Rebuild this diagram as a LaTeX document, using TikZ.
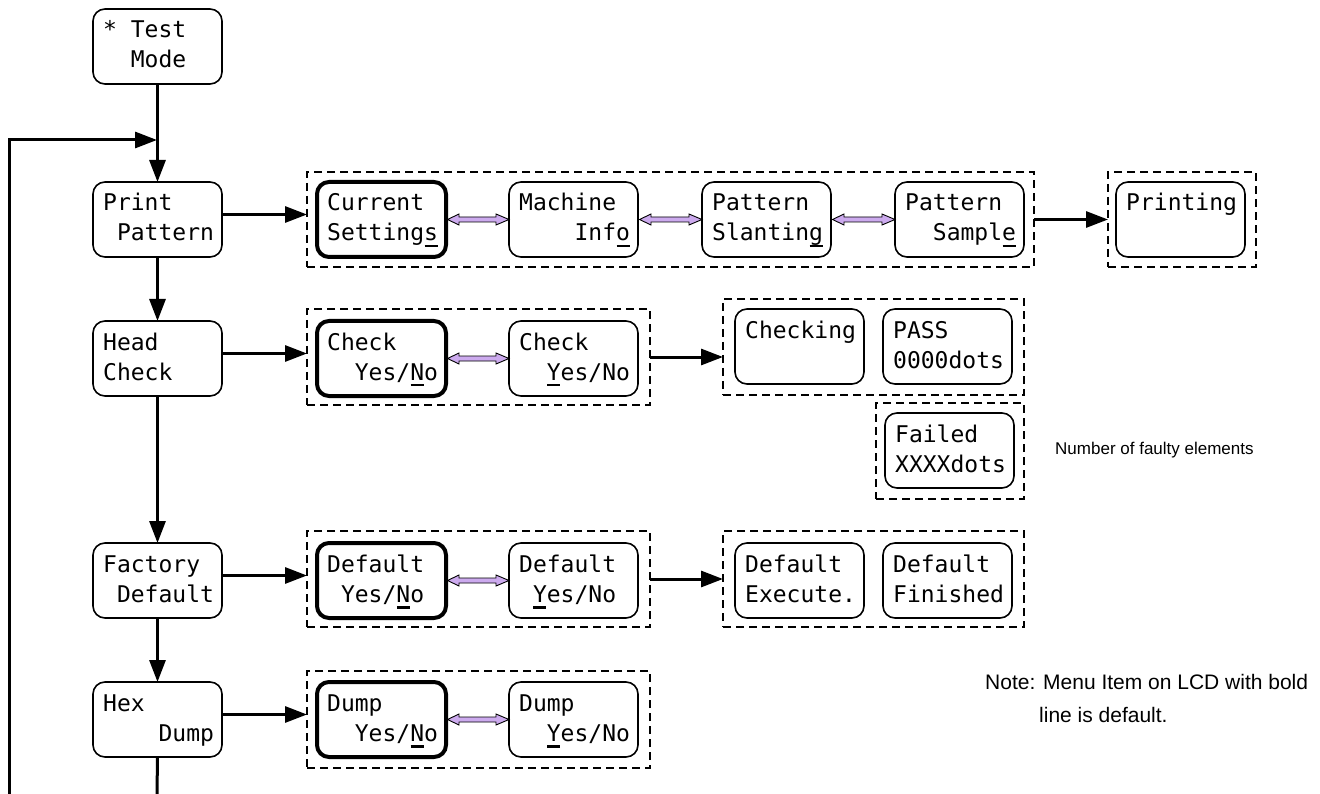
\documentclass[tikz,border=0pt]{standalone}
\usepackage{fontspec}
\setmainfont{Liberation Sans}
\newfontfamily\lcdfont{DejaVu Sans Mono}
\usetikzlibrary{arrows.meta,calc}
\definecolor{lav}{RGB}{204,170,238}
\newcommand\ind[1]{\hphantom{#1}}
\newcommand\ulc[1]{\makebox[0pt][l]{\hspace{0.4pt}\rule[-6.5pt]{13pt}{2.5pt}}#1}
\newcommand\lcd[6][]{%
  \node[lcdbox,#1,anchor=north west] (#2) at (#3,-#4) {};
  \node[lcdtxt] at (#3+10,-#4-29) {#5};
  \node[lcdtxt] at (#3+10,-#4-59) {#6};}
\newcommand\grp[5]{\node[grp,anchor=north west,minimum width=#4pt-#2pt,minimum height=#5pt-#3pt] (#1) at (#2,-#3) {};}
\newcommand\dbl[2]{\draw[dblarr] let \p1=(#1.east), \p2=(#2.west) in
  (\x1+1.5pt,\y1) -- (\x1+13pt,\y1+5.5pt) -- (\x1+13pt,\y1+2.5pt) -- (\x2-13pt,\y1+2.5pt) -- (\x2-13pt,\y1+5.5pt) -- (\x2,\y1)
  -- (\x2-13pt,\y1-5.5pt) -- (\x2-13pt,\y1-2.5pt) -- (\x1+13pt,\y1-2.5pt) -- (\x1+13pt,\y1-5.5pt) -- cycle;}
\tikzset{
  lcdbox/.style={draw, line width=1.6pt, rounded corners=12pt, minimum width=129pt, minimum height=75pt, inner sep=0pt, outer sep=0pt},
  boldbox/.style={line width=4pt},
  lcdtxt/.style={anchor=base west, inner sep=0pt, font=\lcdfont\fontsize{23pt}{23pt}\selectfont},
  grp/.style={draw, dash pattern=on 8pt off 5pt, line width=1.6pt, inner sep=0pt, outer sep=0pt},
  arr/.style={line width=3pt, -{Triangle[length=22pt,width=16pt]}},
  plainline/.style={line width=3pt},
  dblarr/.style={draw=black, fill=lav, line width=0.9pt, line join=miter},
  note/.style={anchor=base west, inner sep=0pt, font=\fontsize{21pt}{21pt}\selectfont},
  smallnote/.style={anchor=base west, inner sep=0pt, font=\fontsize{17pt}{17pt}\selectfont}
}
\begin{document}
\begin{tikzpicture}[x=1pt,y=1pt]
\useasboundingbox (0,0) rectangle (1320,-794);
\fill[white] (0,0) rectangle (1320,-794);
% groups
\grp{g1}{307}{172}{1034}{267}
\grp{g2}{1108}{172}{1256}{267}
\grp{g3}{307}{309}{650}{405}
\grp{g4}{723}{299}{1024}{395}
\grp{g5}{876}{403}{1024}{499}
\grp{g6}{307}{531}{650}{627}
\grp{g7}{723}{531}{1024}{627}
\grp{g8}{307}{671}{650}{768}
% main column
\lcd{tm}{93}{9}{* Test}{\ind{xx}Mode}
\lcd{pp}{93}{182}{Print}{\ind{x}Pattern}
\lcd{hc}{93}{321}{Head}{Check}
\lcd{fd}{93}{543}{Factory}{\ind{x}Default}
\lcd{hd}{93}{682}{Hex}{\ind{xxxx}Dump}
% print pattern row
\lcd[boldbox]{cs}{317}{182}{Current}{Setting\ulc{s}}
\lcd{mi}{509}{182}{Machine}{\ind{xxxx}Inf\ulc{o}}
\lcd{sl}{702}{182}{Pattern}{Slantin\ulc{g}}
\lcd{sp}{895}{182}{Pattern}{\ind{xx}Sampl\ulc{e}}
\lcd{pr}{1116}{182}{Printing}{}
% head check row
\lcd[boldbox]{ck1}{317}{321}{Check}{\ind{xx}Yes/\ulc{N}o}
\lcd{ck2}{509}{321}{Check}{\ind{xx}\ulc{Y}es/No}
\lcd{chk}{735}{309}{Checking}{}
\lcd{pass}{883}{309}{PASS}{0000dots}
\lcd{fail}{885}{413}{Failed}{XXXXdots}
% factory default row
\lcd[boldbox]{df1}{317}{543}{Default}{\ind{x}Yes/\ulc{N}o}
\lcd{df2}{509}{543}{Default}{\ind{x}\ulc{Y}es/No}
\lcd{dx}{735}{543}{Default}{Execute.}
\lcd{dfin}{883}{543}{Default}{Finished}
% hex dump row
\lcd[boldbox]{dp1}{317}{682}{Dump}{\ind{xx}Yes/\ulc{N}o}
\lcd{dp2}{509}{682}{Dump}{\ind{xx}\ulc{Y}es/No}
% connectors
\coordinate (j) at (157,-140);
\coordinate (lb) at (9,-794);
\coordinate (hb) at (157,-794);
\draw[arr] (tm.south) -- (pp.north);
\draw[arr] (lb) |- (j);
\draw[arr] (pp.south) -- (hc.north);
\draw[arr] (hc.south) -- (fd.north);
\draw[arr] (fd.south) -- (hd.north);
\draw[plainline] (hd.south) -- (hb);
\coordinate (ppo) at ([yshift=5pt]pp.east);
\coordinate (hco) at ([yshift=5pt]hc.east);
\coordinate (fdo) at ([yshift=5pt]fd.east);
\coordinate (hdo) at ([yshift=5pt]hd.east);
\draw[arr] (ppo) -- (ppo -| g1.west);
\draw[arr] (hco) -- (hco -| g3.west);
\draw[arr] (fdo) -- (fdo -| g6.west);
\draw[arr] (hdo) -- (hdo -| g8.west);
\draw[arr] (g1.east) -- (g2.west);
\draw[arr] (g3.east) -- (g3.east -| g4.west);
\draw[arr] (g6.east) -- (g7.west);
\dbl{cs}{mi}
\dbl{mi}{sl}
\dbl{sl}{sp}
\dbl{ck1}{ck2}
\dbl{df1}{df2}
\dbl{dp1}{dp2}
% notes
\node[smallnote] (nf) at (1055,-454) {Number of faulty elements};
\node[note] (nt) at (985,-689) {Note: Menu Item on LCD with bold};
\node[note] (nt2) at (1039,-722) {line is default.};
\end{tikzpicture}
\end{document}
